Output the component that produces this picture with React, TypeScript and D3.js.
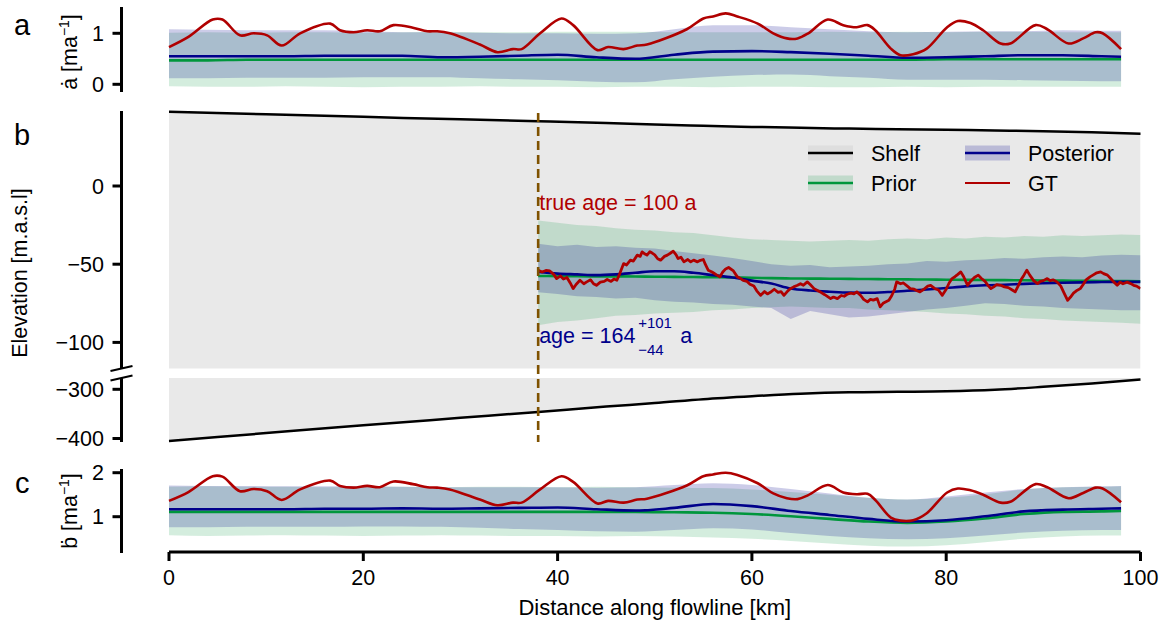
import React from 'react';
import * as d3 from 'd3';

// ---------- data ----------
const xTicks = [0, 20, 40, 60, 80, 100];
const aTicks = [0, 1];
const bUpperTicks = [0, -50, -100];
const bLowerTicks = [-300, -400];
const cTicks = [1, 2];

// grid (km) for accumulation / basal-melt bands
const bandKm = [0, 4, 8, 12, 16, 20, 24, 28, 32, 36, 40, 44, 48, 52, 56, 60, 64, 68, 72, 76, 80, 84, 88, 92, 96, 98];

// panel a: surface accumulation
const priorMeanA = [0.47, 0.47, 0.48, 0.48, 0.48, 0.48, 0.48, 0.48, 0.48, 0.48, 0.48, 0.48, 0.48, 0.48, 0.48, 0.48, 0.48, 0.48, 0.48, 0.48, 0.49, 0.49, 0.49, 0.49, 0.49, 0.49];
const priorUpperA = [1.01, 1.02, 1.01, 1.02, 1.02, 1.01, 1.02, 1.03, 1.02, 1.02, 1.03, 1.03, 1.03, 1.02, 1.02, 1.02, 1.02, 1.03, 1.02, 1.03, 1.02, 1.03, 1.03, 1.02, 1.02, 1.02];
const priorLowerA = [-0.04, -0.05, -0.05, -0.04, -0.05, -0.06, -0.05, -0.05, -0.04, -0.05, -0.05, -0.06, -0.05, -0.05, -0.06, -0.05, -0.05, -0.06, -0.06, -0.05, -0.06, -0.05, -0.05, -0.05, -0.05, -0.05];
const postMeanA = [0.55, 0.55, 0.55, 0.55, 0.56, 0.56, 0.56, 0.53, 0.54, 0.56, 0.58, 0.53, 0.5, 0.58, 0.64, 0.65, 0.63, 0.6, 0.56, 0.52, 0.53, 0.55, 0.57, 0.57, 0.55, 0.54];
const postUpperA = [1.08, 1.07, 1.06, 1.06, 1.06, 1.05, 1.02, 1.02, 1.01, 1.0, 1.0, 0.99, 1.0, 1.08, 1.16, 1.16, 1.12, 1.08, 1.04, 1.02, 1.03, 1.04, 1.04, 1.06, 1.05, 1.05];
const postLowerA = [0.12, 0.12, 0.13, 0.13, 0.13, 0.14, 0.14, 0.14, 0.12, 0.1, 0.08, 0.05, 0.04, 0.1, 0.15, 0.18, 0.19, 0.16, 0.13, 0.09, 0.09, 0.09, 0.08, 0.07, 0.06, 0.06];

// panel c: basal melt
const priorMeanC = [1.11, 1.11, 1.11, 1.11, 1.11, 1.11, 1.11, 1.11, 1.11, 1.11, 1.11, 1.11, 1.11, 1.1, 1.09, 1.06, 1.01, 0.95, 0.89, 0.86, 0.89, 0.96, 1.06, 1.11, 1.12, 1.13];
const priorUpperC = [1.68, 1.69, 1.68, 1.68, 1.67, 1.68, 1.68, 1.67, 1.68, 1.68, 1.67, 1.68, 1.67, 1.66, 1.65, 1.62, 1.56, 1.5, 1.43, 1.39, 1.43, 1.51, 1.62, 1.67, 1.68, 1.69];
const priorLowerC = [0.58, 0.56, 0.57, 0.58, 0.57, 0.56, 0.57, 0.58, 0.57, 0.56, 0.56, 0.55, 0.56, 0.55, 0.53, 0.5, 0.45, 0.39, 0.34, 0.32, 0.35, 0.42, 0.5, 0.55, 0.57, 0.57];
const postMeanC = [1.17, 1.17, 1.17, 1.17, 1.18, 1.18, 1.19, 1.18, 1.19, 1.2, 1.21, 1.17, 1.14, 1.2, 1.29, 1.24, 1.13, 1.04, 0.95, 0.89, 0.92, 1.01, 1.12, 1.16, 1.18, 1.19];
const postUpperC = [1.71, 1.7, 1.7, 1.69, 1.69, 1.69, 1.68, 1.67, 1.67, 1.67, 1.67, 1.66, 1.67, 1.72, 1.76, 1.72, 1.63, 1.53, 1.43, 1.39, 1.46, 1.55, 1.63, 1.67, 1.69, 1.7];
const postLowerC = [0.76, 0.76, 0.77, 0.77, 0.77, 0.78, 0.78, 0.77, 0.75, 0.72, 0.7, 0.67, 0.66, 0.7, 0.74, 0.71, 0.63, 0.56, 0.51, 0.49, 0.51, 0.57, 0.64, 0.68, 0.7, 0.7];

// ground truth accumulation (a) and melt (c)
const gtKm = [0, 2, 4.5, 5.5, 7.3, 8.7, 10.1, 11.6, 13.5, 16.6, 17.6, 19, 20.4, 21.7, 23.1, 25.1, 26.6, 27.6, 28.9, 32, 33.8, 35.4, 36.3, 38.2, 40.4, 41.6, 44.1, 45.2, 46.8, 48.2, 49.2, 53.3, 55, 56, 57.3, 58.5, 60.6, 62.2, 63.6, 64.7, 65.8, 67.8, 69.4, 70.8, 71.9, 72.7, 74.3, 75.3, 76.6, 78, 80.1, 81.2, 82.5, 83.8, 85.6, 86.6, 89.2, 90.4, 92.6, 94.1, 95.4, 96.1, 98];
const gtA = [0.73, 0.93, 1.27, 1.27, 0.96, 1.0, 0.96, 0.76, 1.0, 1.19, 1.06, 1.02, 1.06, 1.04, 1.16, 1.11, 1.04, 1.04, 1.0, 0.78, 0.63, 0.69, 0.69, 1.0, 1.29, 1.16, 0.67, 0.73, 0.69, 0.76, 0.78, 1.08, 1.29, 1.33, 1.39, 1.33, 1.19, 1.0, 0.9, 0.9, 1.0, 1.27, 1.16, 1.12, 1.16, 1.06, 0.7, 0.57, 0.59, 0.7, 1.12, 1.24, 1.2, 1.06, 0.8, 0.8, 1.16, 1.08, 0.8, 0.9, 1.02, 1.0, 0.69];
const gtC = [1.36, 1.56, 1.92, 1.91, 1.58, 1.63, 1.58, 1.38, 1.62, 1.82, 1.7, 1.66, 1.7, 1.67, 1.8, 1.74, 1.67, 1.66, 1.62, 1.39, 1.26, 1.32, 1.32, 1.62, 1.92, 1.79, 1.3, 1.36, 1.32, 1.39, 1.41, 1.71, 1.92, 1.96, 2.0, 1.95, 1.76, 1.53, 1.42, 1.4, 1.49, 1.72, 1.55, 1.51, 1.52, 1.38, 0.98, 0.91, 0.92, 1.08, 1.55, 1.64, 1.6, 1.5, 1.32, 1.34, 1.74, 1.67, 1.42, 1.54, 1.66, 1.64, 1.33];

// panel b: shelf geometry
const shelfKm = [0, 10, 20, 30, 38, 45, 50, 55, 60, 65, 70, 75, 80, 85, 90, 95, 100];
const shelfSurface = [47.4, 45.8, 44.2, 42.6, 41.4, 40.3, 39.3, 38.5, 37.8, 37.2, 36.7, 36.3, 35.9, 35.5, 35.0, 34.3, 33.4];
const shelfBase = [-405, -389, -373, -358, -346, -335, -328, -320, -314, -309, -306, -305, -304, -301, -295, -288, -280];

// panel b: isochrone layer elevation
const layerKm = [38, 40, 42, 44, 46, 48, 50, 52, 54, 56, 58, 60, 62, 64, 66, 68, 70, 72, 74, 76, 78, 80, 82, 84, 86, 88, 90, 92, 94, 96, 98, 100];
const priorMeanB = [-57.5, -57.6, -57.7, -57.8, -57.8, -57.9, -58, -58.1, -58.2, -58.3, -58.5, -58.7, -58.9, -59.1, -59.2, -59.3, -59.4, -59.5, -59.6, -59.7, -59.8, -59.9, -60, -60.1, -60.2, -60.3, -60.4, -60.5, -60.6, -60.7, -60.8, -61];
const priorUpperB = [-22, -23.5, -25, -25.5, -27, -28, -28.5, -29.5, -30, -31.5, -33, -34, -34.5, -35, -35.5, -35, -34.5, -35, -34, -33.5, -34, -33, -33.5, -32.5, -33, -32, -32.5, -31.5, -32, -31.5, -31, -31.4];
const priorLowerB = [-89, -87, -86, -84.5, -83, -82.5, -81.5, -81, -80.5, -79.5, -79, -78, -77.5, -77, -77.5, -78, -78, -79, -79.5, -80, -80.5, -81.5, -82, -83, -83.5, -84.5, -85, -86, -86.5, -87, -87.5, -88];
const postMeanB = [-55, -56, -56.5, -57, -56.5, -55.5, -54.5, -54.5, -55.5, -57, -58.5, -60.5, -62.4, -65.5, -66.8, -67.6, -68.2, -68.3, -67.8, -67, -66.2, -65.2, -64.2, -63.5, -63.1, -62.6, -62.2, -61.9, -61.6, -61.4, -61.3, -61.3];
const postUpperB = [-37, -38.5, -37.5, -39, -38.5, -39.5, -40, -41.5, -43, -44.5, -46, -48, -50, -51, -50.5, -52, -51.5, -51, -50, -49.5, -48, -48.5, -47.5, -47, -46, -46.5, -45.5, -45, -45.5, -44.5, -44, -44.2];
const postLowerB = [-68, -69, -70.5, -71, -72, -71.5, -73, -74, -74.5, -75.5, -76, -77, -78, -85, -80, -82, -84, -83.5, -82, -80.5, -79, -78, -76.5, -75, -75.5, -76.5, -77, -78, -78.5, -79, -79.5, -79.5];

// ground-truth layer [km, elevation]
const gtB: [number, number][] = [
  [38.0, -53.8], [38.4, -55.0], [38.8, -54.0], [39.2, -54.3], [39.6, -56.5], [39.9, -59.2], [40.3, -57.5], [40.6, -59.5], [40.96, -58.5], [41.3, -62], [41.6, -65.6], [41.9, -63], [42.3, -60.3], [42.7, -62.5], [43.0, -61.3], [43.4, -60], [43.7, -62.5], [44.0, -63.5], [44.4, -61.5], [44.8, -61], [45.1, -59.8], [45.5, -61], [45.8, -59.5], [46.1, -60.3], [46.4, -56], [46.8, -49.6], [47.1, -50.5], [47.5, -47.4], [47.8, -48], [48.2, -44.2], [48.5, -45], [48.7, -42.1], [49.0, -43.5], [49.2, -44.2], [49.5, -42], [49.7, -42.7], [50.0, -44], [50.3, -46.5], [50.6, -47.4], [51.0, -45], [51.3, -44.2], [51.6, -43], [51.9, -41.7], [52.2, -44], [52.4, -46.4], [52.7, -45.5], [53.0, -48.5], [53.4, -47], [53.7, -48.5], [54.0, -47.4], [54.4, -48.5], [54.7, -47.5], [55.0, -47], [55.2, -50], [55.5, -53.8], [55.9, -55], [56.4, -57], [56.7, -58.1], [57.0, -55], [57.3, -53], [57.6, -52.1], [58.1, -54.3], [58.5, -58.1], [58.8, -59], [59.1, -60.3], [59.5, -61], [59.8, -62.8], [60.2, -64], [60.5, -67], [60.9, -69.9], [61.3, -67.5], [61.6, -69], [61.9, -68], [62.3, -66], [62.7, -68], [63.0, -67.5], [63.3, -69.9], [63.7, -67], [64.0, -65.5], [64.3, -64.5], [64.7, -63.5], [65.0, -62.5], [65.3, -63.5], [65.7, -61.3], [66.0, -63], [66.4, -65.6], [66.8, -67], [67.1, -68], [67.5, -69.5], [68.1, -72], [68.4, -71], [68.8, -72], [69.2, -70], [69.5, -70.5], [69.8, -69.2], [70.2, -68.5], [70.5, -69], [70.8, -67.7], [71.2, -70], [71.5, -72.5], [71.9, -74.1], [72.2, -72.5], [72.5, -73], [72.9, -72], [73.2, -77.3], [73.5, -75], [73.8, -74], [74.1, -73.1], [74.4, -70], [74.7, -66], [74.9, -61.3], [75.3, -62.5], [75.6, -62], [76.0, -64], [76.3, -65.6], [76.7, -66], [77.0, -67], [77.3, -67.7], [77.7, -66], [78.1, -64], [78.4, -63.5], [78.8, -65.5], [79.2, -66.5], [79.6, -69.9], [80.0, -66], [80.3, -62], [80.6, -59.2], [80.9, -58], [81.2, -56.5], [81.5, -54.9], [81.8, -58], [82.2, -63.5], [82.5, -61], [82.9, -58.5], [83.3, -57], [83.6, -59], [84.0, -61], [84.3, -63.5], [84.6, -65.6], [84.9, -64.5], [85.2, -63], [85.6, -63.5], [86.0, -64.5], [86.4, -65], [86.8, -66.5], [87.1, -67.7], [87.4, -64], [87.7, -60], [88.0, -57], [88.3, -53.8], [88.6, -57], [89.0, -60.5], [89.4, -62.4], [89.7, -61], [90.0, -60.5], [90.4, -59.2], [90.7, -60.5], [91.0, -60], [91.4, -61.3], [91.8, -64], [92.1, -68], [92.5, -73.1], [92.8, -71], [93.1, -68.5], [93.4, -67], [93.8, -65.6], [94.1, -63], [94.4, -60], [94.8, -58.1], [95.1, -57], [95.5, -55.5], [95.9, -54.9], [96.2, -56], [96.6, -57], [96.9, -59], [97.2, -61], [97.6, -63.5], [97.9, -61.5], [98.2, -62.5], [98.6, -61.5], [99.0, -62.4], [99.3, -63.5], [99.6, -64], [100.0, -65.6],
];

const layerStartKm = 38;
const trueAgeLabel = 'true age = 100 a';
const ageMain = 'age = 164';
const agePlus = '+101';
const ageMinus = '\u221244';

const legendItems = [
  { label: 'Shelf', line: '#000000', patch: 'shelf', col: 0, row: 0 },
  { label: 'Prior', line: '#00963c', patch: 'prior', col: 0, row: 1 },
  { label: 'Posterior', line: '#00008b', patch: 'post', col: 1, row: 0 },
  { label: 'GT', line: '#b00000', patch: null, col: 1, row: 1 },
];

// ---------- styles ----------
const FONT = '"Liberation Sans", Arial, Helvetica, sans-serif';
const FS = 21.5;
const RED = '#b00000';
const NAVY = '#00008b';
const GREEN = '#00963c';
const SHELF_FILL = 'rgba(211,211,211,0.5)';
const PRIOR_FILL = 'rgba(0,150,60,0.17)';
const POST_FILL = 'rgba(0,0,139,0.2)';
const AXW = 3;

const fmt = (v: number) => (v < 0 ? '\u2212' + Math.abs(v) : String(v));

export default function App() {
  const W = 1166, H = 626;
  const axX = 121.5;
  const x = d3.scaleLinear().domain([0, 100]).range([169, 1140.5]);
  const yA = d3.scaleLinear().domain([0, 1]).range([84.3, 33.3]);
  const yB = d3.scaleLinear().domain([0, -50]).range([186, 264.2]);
  const yBL = d3.scaleLinear().domain([-300, -400]).range([389.3, 438.5]);
  const yC = d3.scaleLinear().domain([1, 2]).range([516.7, 472.7]);

  const pA = { top: 7, bottom: 92 };
  const pBU = { top: 111, bottom: 368.5 };
  const pBL = { top: 378, bottom: 442 };
  const pC = { top: 469, bottom: 552 };
  const xAxisY = 552;

  const band = (km: number[], lo: number[], hi: number[], ys: d3.ScaleLinear<number, number>, curve = d3.curveMonotoneX) =>
    d3.area<number>().x((d) => x(d)).y0((_, i) => ys(lo[i])).y1((_, i) => ys(hi[i])).curve(curve)(km) || '';
  const line = (km: number[], vals: number[], ys: d3.ScaleLinear<number, number>, curve: d3.CurveFactory = d3.curveMonotoneX) =>
    d3.line<number>().x((d) => x(d)).y((_, i) => ys(vals[i])).curve(curve)(km) || '';

  const gtBPath = d3.line<[number, number]>().x((d) => x(d[0])).y((d) => yB(d[1]))(gtB) || '';

  const shelfUpper = d3.area<number>().x((d) => x(d)).y0(pBU.bottom + 2).y1((_, i) => yB(shelfSurface[i])).curve(d3.curveMonotoneX)(shelfKm) || '';
  const shelfLower = d3.area<number>().x((d) => x(d)).y0((_, i) => yBL(shelfBase[i])).y1(pBL.top - 2).curve(d3.curveMonotoneX)(shelfKm) || '';

  const yAxis = (ticks: number[], ys: d3.ScaleLinear<number, number>, top: number, bottom: number, key: string) => (
    <g key={key}>
      <line x1={axX} x2={axX} y1={top} y2={bottom} stroke="#000" strokeWidth={AXW} />
      {ticks.map((t) => (
        <g key={t}>
          <line x1={axX - 9} x2={axX} y1={ys(t)} y2={ys(t)} stroke="#000" strokeWidth={AXW} />
          <text x={104} y={ys(t)} dy="0.36em" textAnchor="end" fontSize={FS} fontFamily={FONT}>{fmt(t)}</text>
        </g>
      ))}
    </g>
  );

  const panelAC = (
    ys: d3.ScaleLinear<number, number>, pm: number[], pu: number[], pl: number[], qm: number[], qu: number[], ql: number[], gt: number[], key: string,
  ) => (
    <g key={key}>
      <path d={band(bandKm, pl, pu, ys)} fill={PRIOR_FILL} />
      <path d={band(bandKm, ql, qu, ys)} fill={POST_FILL} />
      <path d={line(bandKm, pm, ys)} fill="none" stroke={GREEN} strokeWidth={2.6} />
      <path d={line(bandKm, qm, ys)} fill="none" stroke={NAVY} strokeWidth={2.6} />
      <path d={line(gtKm, gt, ys, d3.curveCatmullRom.alpha(0.5))} fill="none" stroke={RED} strokeWidth={2.6} />
    </g>
  );

  const legX = [808, 965];
  const legY = [153, 183];
  const patchFill = (p: string | null) => (p === 'shelf' ? SHELF_FILL : p === 'prior' ? PRIOR_FILL : p === 'post' ? POST_FILL : 'none');

  return (
    <svg width={W} height={H} style={{ position: 'absolute', left: 0, top: 0, background: '#fff' }} fontFamily={FONT}>
      <defs>
        <clipPath id="clipBU"><rect x={x(0)} y={pBU.top - 2} width={x(100) - x(0)} height={pBU.bottom - pBU.top + 2} /></clipPath>
        <clipPath id="clipBL"><rect x={x(0)} y={pBL.top} width={x(100) - x(0)} height={pBL.bottom - pBL.top + 2} /></clipPath>
      </defs>

      {/* panel a */}
      {panelAC(yA, priorMeanA, priorUpperA, priorLowerA, postMeanA, postUpperA, postLowerA, gtA, 'pa')}
      {yAxis(aTicks, yA, pA.top, pA.bottom, 'axa')}

      {/* panel b upper */}
      <g clipPath="url(#clipBU)">
        <path d={shelfUpper} fill={SHELF_FILL} />
        <path d={band(layerKm, priorLowerB, priorUpperB, yB, d3.curveLinear)} fill={PRIOR_FILL} />
        <path d={band(layerKm, postLowerB, postUpperB, yB, d3.curveLinear)} fill={POST_FILL} />
        <path d={line(layerKm, priorMeanB, yB)} fill="none" stroke={GREEN} strokeWidth={2.6} />
        <path d={line(layerKm, postMeanB, yB)} fill="none" stroke={NAVY} strokeWidth={2.6} />
        <path d={gtBPath} fill="none" stroke={RED} strokeWidth={2.8} strokeLinejoin="round" />
      </g>
      <path d={line(shelfKm, shelfSurface, yB)} fill="none" stroke="#000" strokeWidth={2.5} />
      {/* panel b lower */}
      <g clipPath="url(#clipBL)">
        <path d={shelfLower} fill={SHELF_FILL} />
      </g>
      <path d={line(shelfKm, shelfBase, yBL)} fill="none" stroke="#000" strokeWidth={2.5} />
      {yAxis(bUpperTicks, yB, pBU.top, pBU.bottom, 'axbu')}
      {yAxis(bLowerTicks, yBL, pBL.top, pBL.bottom, 'axbl')}
      {/* break marks */}
      <line x1={axX - 11} y1={pBU.bottom + 2.5} x2={axX + 11} y2={pBU.bottom - 2.5} stroke="#000" strokeWidth={2} />
      <line x1={axX - 11} y1={pBL.top + 2.5} x2={axX + 11} y2={pBL.top - 2.5} stroke="#000" strokeWidth={2} />

      {/* age marker */}
      <line x1={x(layerStartKm)} x2={x(layerStartKm)} y1={113} y2={442} stroke="#7f5200" strokeWidth={2.6} strokeDasharray="9,5" />
      <text x={x(layerStartKm) + 1} y={210} fontSize={FS} fill={RED}>{trueAgeLabel}</text>
      <text x={x(layerStartKm) + 1} y={343} fontSize={FS} fill={NAVY}>{ageMain}</text>
      <text x={x(layerStartKm) + 100} y={328} fontSize={15} fill={NAVY}>{agePlus}</text>
      <text x={x(layerStartKm) + 100} y={355} fontSize={15} fill={NAVY}>{ageMinus}</text>
      <text x={x(layerStartKm) + 142} y={343} fontSize={FS} fill={NAVY}>a</text>

      {/* legend */}
      {legendItems.map((it) => {
        const lx = legX[it.col];
        const ly = legY[it.row];
        return (
          <g key={it.label}>
            {it.patch && <rect x={lx} y={ly - 7.5} width={45} height={15} fill={patchFill(it.patch)} />}
            <line x1={lx} x2={lx + 45} y1={ly} y2={ly} stroke={it.line} strokeWidth={it.patch ? 2.5 : 2} />
            <text x={lx + 63} y={ly + 7.5} fontSize={FS}>{it.label}</text>
          </g>
        );
      })}

      {/* panel c */}
      {panelAC(yC, priorMeanC, priorUpperC, priorLowerC, postMeanC, postUpperC, postLowerC, gtC, 'pc')}
      {yAxis(cTicks, yC, pC.top, pC.bottom + 1, 'axc')}

      {/* x axis */}
      <line x1={x(0)} x2={x(100)} y1={xAxisY} y2={xAxisY} stroke="#000" strokeWidth={AXW} />
      {xTicks.map((t) => (
        <g key={t}>
          <line x1={x(t)} x2={x(t)} y1={xAxisY} y2={xAxisY + 9} stroke="#000" strokeWidth={AXW} />
          <text x={x(t)} y={585} textAnchor="middle" fontSize={FS}>{t}</text>
        </g>
      ))}
      <text x={(x(0) + x(100)) / 2} y={615} textAnchor="middle" fontSize={22}>Distance along flowline [km]</text>

      {/* y labels */}
      <text transform="translate(77,52) rotate(-90)" textAnchor="middle" fontSize={FS}>
        {'\u0227 [ma'}<tspan dy={-8} fontSize={14}>{'\u22121'}</tspan><tspan dy={8}>]</tspan>
      </text>
      <text transform="translate(27,273) rotate(-90)" textAnchor="middle" fontSize={FS}>Elevation [m.a.s.l]</text>
      <text transform="translate(77,511) rotate(-90)" textAnchor="middle" fontSize={FS}>
        {'\u1E03 [ma'}<tspan dy={-8} fontSize={14}>{'\u22121'}</tspan><tspan dy={8}>]</tspan>
      </text>

      {/* panel letters */}
      <text x={14} y={35} fontSize={29}>a</text>
      <text x={14} y={145} fontSize={29}>b</text>
      <text x={15} y={493} fontSize={29}>c</text>
    </svg>
  );
}
